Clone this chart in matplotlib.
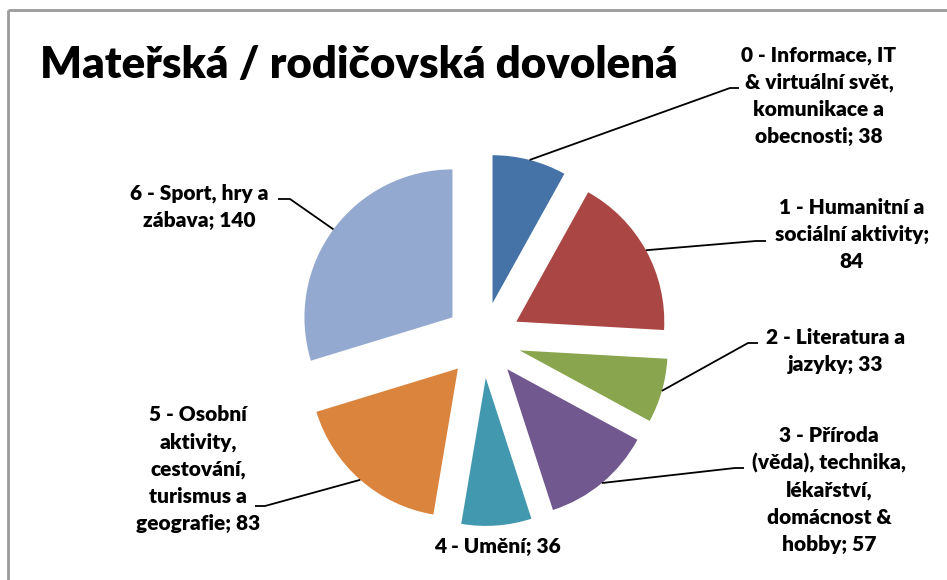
import numpy as np
import matplotlib.pyplot as plt

# data
labels = [
    "0 - Informace, IT\n& virtuální svět,\nkomunikace a\nobecnosti; 38",
    "1 - Humanitní a\nsociální aktivity;\n84",
    "2 - Literatura a\njazyky; 33",
    "3 - Příroda\n(věda), technika,\nlékařství,\ndomácnost &\nhobby; 57",
    "4 - Umění; 36",
    "5 - Osobní\naktivity,\ncestování,\nturismus a\ngeografie; 83",
    "6 - Sport, hry a\nzábava; 140",
]
values = [38, 84, 33, 57, 36, 83, 140]
colors = ['#4572A7', '#AA4643', '#89A54E', '#71588F', '#4198AF', '#DB843D', '#93A9CF']

W, H = 947, 580
CX, CY = 483, 340      # pie centre, pixels from top-left
RADIUS = 148
EXPLODE = 38

# label centres and leader elbows (pixels from top-left)
label_pos = [(819, 96), (852, 235), (836, 351), (829, 490), (497, 547), (198, 469), (199, 207)]
elbows = [[(730, 88), (739, 88)],
          [(756, 241), (766, 241)],
          [(748, 343), (758, 343)],
          [(735, 468), (744, 468)],
          None,
          [(265, 506), (255, 506)],
          [(290, 199), (278, 199)]]

FONT = 'Lato'


def py(y):
    return H - y


fig = plt.figure(figsize=(W / 100, H / 100), dpi=100)
ax = fig.add_axes([0, 0, 1, 1])

wedges, _ = ax.pie(values, colors=colors, startangle=90, counterclock=False,
                   center=(CX, py(CY)), radius=RADIUS, explode=[EXPLODE] * len(values),
                   wedgeprops=dict(linewidth=0), frame=True)
ax.set_xlim(0, W)
ax.set_ylim(0, H)
ax.set_aspect('equal')
ax.axis('off')

for w, lab, pos, elb in zip(wedges, labels, label_pos, elbows):
    ang = np.deg2rad((w.theta1 + w.theta2) / 2)
    sx = w.center[0] + w.r * np.cos(ang)
    sy = w.center[1] + w.r * np.sin(ang)
    if elb is not None:
        xs = [sx] + [p[0] for p in elb]
        ys = [sy] + [py(p[1]) for p in elb]
        ax.plot(xs, ys, color='black', lw=1.3, solid_capstyle='butt')
    ax.text(pos[0], py(pos[1]), lab, ha='center', va='center', multialignment='center',
            fontsize=15, fontweight='heavy', family=FONT, linespacing=1.5)

ax.text(40, py(65), "Mateřská / rodičovská dovolená", ha='left', va='center',
        fontsize=31.5, fontweight='heavy', family=FONT)

# chart area border (left and top visible)
ax.plot([8, 8], [0, py(10)], color='#9a9a9a', lw=2, solid_capstyle='butt')
ax.plot([8, W], [py(10), py(10)], color='#9a9a9a', lw=2, solid_capstyle='butt')

fig.savefig('out.png', dpi=100, facecolor='white')
